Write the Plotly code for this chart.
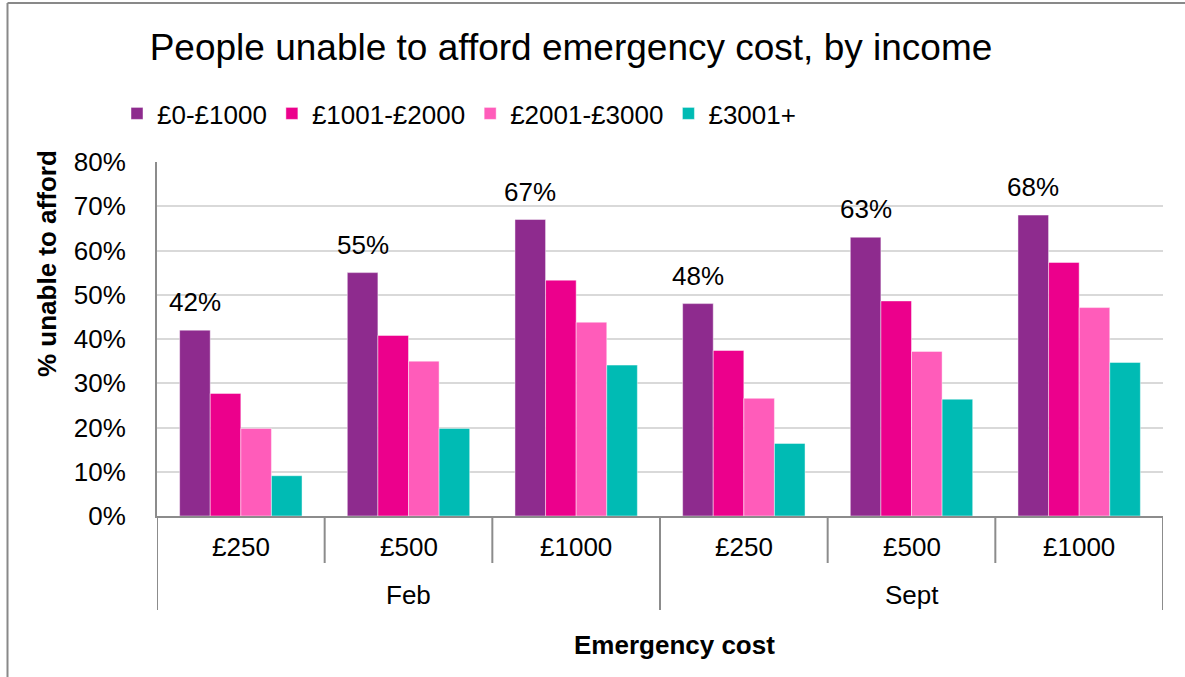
import plotly.graph_objects as go

# ---- data ----
months = ["Feb", "Feb", "Feb", "Sept", "Sept", "Sept"]
costs = ["£250", "£500", "£1000", "£250", "£500", "£1000"]
series_names = ["£0-£1000", "£1001-£2000", "£2001-£3000", "£3001+"]
band_0_1000 = [0.42, 0.55, 0.67, 0.48, 0.63, 0.68]
band_1001_2000 = [0.277, 0.408, 0.533, 0.374, 0.486, 0.573]
band_2001_3000 = [0.198, 0.350, 0.438, 0.266, 0.372, 0.471]
band_3001_plus = [0.091, 0.198, 0.341, 0.164, 0.264, 0.347]
y_ticks = [0.0, 0.1, 0.2, 0.3, 0.4, 0.5, 0.6, 0.7, 0.8]

series_values = [band_0_1000, band_1001_2000, band_2001_3000, band_3001_plus]
colors = ["#8E2B8E", "#EC008C", "#FF5CBA", "#00BBB4"]

# ---- layout geometry (pixels) ----
W, H = 1185, 677
ML, MR, MT, MB = 157, 22, 162, 161
PW, PH = W - ML - MR, H - MT - MB
FONT = "Liberation Sans, Arial, sans-serif"
AXIS_GREY = "#8C8C8C"
BARGAP = 0.27


def px_x(px):
    return (px - ML) / PW


def px_y(py):
    return (H - MB - py) / PH


xs = list(range(len(costs)))

fig = go.Figure()
for name, vals, col in zip(series_names, series_values, colors):
    fig.add_trace(go.Bar(
        x=xs, y=vals, name=name,
        marker=dict(color=col, line=dict(color="rgba(255,255,255,0.45)", width=1)),
    ))

annotations = []

# value labels above the lowest-income bars
n_series = len(series_names)
bar_w = (1 - BARGAP) / n_series
for i, v in enumerate(band_0_1000):
    annotations.append(dict(
        x=i - 1.5 * bar_w, y=v, xref="x", yref="y",
        text=f"{round(v * 100)}%", showarrow=False,
        yanchor="bottom", yshift=11,
        font=dict(size=26, color="#000000", family=FONT),
    ))

# inner category labels
for i, c in enumerate(costs):
    annotations.append(dict(
        x=i, y=px_y(547), xref="x", yref="paper", text=c, showarrow=False,
        yanchor="middle", font=dict(size=26, color="#000000", family=FONT),
    ))

# outer group labels and dividers
shapes = []
groups = []
for i, m in enumerate(months):
    if not groups or groups[-1][0] != m:
        groups.append([m, i, i])
    else:
        groups[-1][2] = i
for m, a, b in groups:
    annotations.append(dict(
        x=(a + b) / 2, y=px_y(595), xref="x", yref="paper", text=m, showarrow=False,
        yanchor="middle", font=dict(size=26, color="#000000", family=FONT),
    ))

outer_bounds = set()
for m, a, b in groups:
    outer_bounds.add(a - 0.5)
    outer_bounds.add(b + 0.5)
for k in range(len(costs) + 1):
    xb = k - 0.5
    y_end = px_y(610) if xb in outer_bounds else px_y(563)
    shapes.append(dict(type="line", xref="x", yref="paper",
                       x0=xb, x1=xb, y0=0, y1=y_end,
                       line=dict(color=AXIS_GREY, width=2)))

# axis titles
annotations.append(dict(
    x=px_x(674), y=px_y(645), xref="paper", yref="paper",
    text="<b>Emergency cost</b>", showarrow=False, yanchor="middle",
    font=dict(size=26, color="#000000", family=FONT),
))
annotations.append(dict(
    x=px_x(47), y=px_y(264), xref="paper", yref="paper",
    text="<b>% unable to afford</b>", showarrow=False, textangle=-90,
    xanchor="center", yanchor="middle",
    font=dict(size=26, color="#000000", family=FONT),
))

# chart frame (top and left edges)
shapes.append(dict(type="line", xref="paper", yref="paper",
                   x0=px_x(7.5), x1=px_x(W + 10), y0=px_y(3), y1=px_y(3),
                   line=dict(color="#898989", width=2)))
shapes.append(dict(type="line", xref="paper", yref="paper",
                   x0=px_x(7.5), x1=px_x(7.5), y0=px_y(3), y1=px_y(H + 10),
                   line=dict(color="#898989", width=2)))

fig.update_layout(
    width=W, height=H,
    margin=dict(l=ML, r=MR, t=MT, b=MB, autoexpand=False),
    paper_bgcolor="white", plot_bgcolor="white",
    barmode="group", bargap=BARGAP, bargroupgap=0,
    font=dict(family=FONT, size=26, color="#000000"),
    title=dict(
        text="People unable to afford emergency cost, by income",
        x=571 / W, xref="container", xanchor="center",
        y=1 - 47 / H, yref="container", yanchor="middle",
        font=dict(size=37, color="#000000", family=FONT),
    ),
    legend=dict(
        orientation="h", xref="container", yref="container",
        x=117 / W, xanchor="left", y=1 - 90 / H, yanchor="top",
        font=dict(size=26, color="#000000", family=FONT),
        bgcolor="rgba(0,0,0,0)", traceorder="normal",
    ),
    xaxis=dict(
        range=[-0.5, len(costs) - 0.5], showticklabels=False, showgrid=False,
        zeroline=False, showline=True, linecolor=AXIS_GREY, linewidth=2,
        ticks="", fixedrange=True,
    ),
    yaxis=dict(
        range=[0, 0.8], tickvals=y_ticks, tickformat=".0%",
        showgrid=True, gridcolor="#D9D9D9", gridwidth=2,
        zeroline=False, showline=True, linecolor=AXIS_GREY, linewidth=2,
        ticks="", ticklabelstandoff=24,
        tickfont=dict(size=26, color="#000000", family=FONT),
    ),
    annotations=annotations,
    shapes=shapes,
    showlegend=True,
)

fig.write_html("out.html")
